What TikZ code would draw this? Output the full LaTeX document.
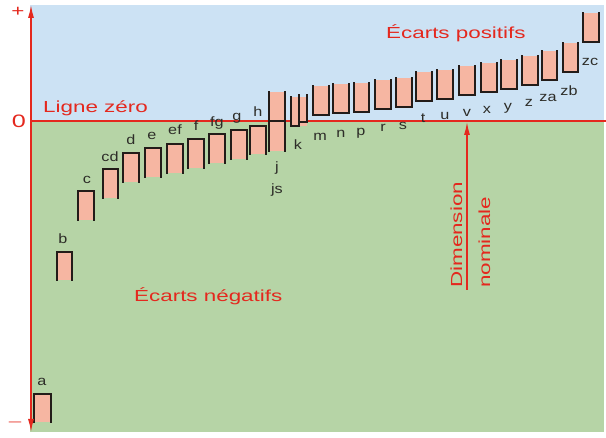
\documentclass[tikz,border=0pt]{standalone}
\usepackage{fontspec}
\setmainfont{Liberation Sans}
\newfontfamily\bigf[FakeStretch=1.4]{Liberation Sans}
\newfontfamily\smf[FakeStretch=1.2]{Liberation Sans}
\usetikzlibrary{arrows.meta}
\definecolor{bgblue}{RGB}{204,226,244}
\definecolor{bggreen}{RGB}{182,212,166}
\definecolor{myred}{RGB}{228,40,30}
\definecolor{boxpink}{RGB}{246,182,162}
\definecolor{boxline}{RGB}{35,28,25}
\definecolor{labgray}{RGB}{45,45,40}
\tikzset{
  redline/.style={draw=myred,line width=1.6pt},
  biglab/.style={font=\bigf\fontsize{16}{19}\selectfont,text=myred,inner sep=0pt},
  smlab/.style={font=\smf\fontsize{13.5}{15}\selectfont,text=labgray,inner sep=0pt},
  boxedge/.style={draw=boxline,line width=2.6pt,line cap=rect},
  boxfill/.style={fill=boxpink},
}
\newcommand{\negbx}[4]{%
  \fill[boxfill] (#1,#3) rectangle (#2,#4);
  \draw[boxedge] (#1,#4) -- (#1,#3) -- (#2,#3) -- (#2,#4);}
\newcommand{\posbx}[4]{%
  \fill[boxfill] (#1,#3) rectangle (#2,#4);
  \draw[boxedge] (#1,#3) -- (#1,#4) -- (#2,#4) -- (#2,#3);}
\begin{document}
\begin{tikzpicture}[x=1pt,y=-1pt]
\useasboundingbox (0,0) rectangle (606,438);
% backgrounds
\fill[bgblue] (30,5) rectangle (604,121);
\fill[bggreen] (30,121) rectangle (604,432);
% boxes below zero
\negbx{34}{51}{394}{422}
\negbx{57}{72}{252}{280}
\negbx{78}{94}{191}{220}
\negbx{103}{118}{169}{198}
\negbx{123}{139}{153}{182}
\negbx{145}{161}{148}{177}
\negbx{167}{183}{144}{173}
\negbx{188}{204}{139}{168}
\negbx{209}{225}{134}{163}
\negbx{231}{247}{130}{159}
\negbx{250}{266}{126}{154}
% zero line
\coordinate (z0) at (30,121);
\coordinate (z1) at (606,121);
\draw[redline] (z0) -- (z1);
% js box (straddling)
\fill[boxfill] (269,92) rectangle (285,151);
\draw[boxedge] (269,92) -- (269,151);
\draw[boxedge] (285,92) -- (285,151);
\draw[boxedge] (269,121) -- (285,121);
% k boxes
\fill[boxfill] (291,97) rectangle (307,126);
\draw[boxedge] (291,97) -- (291,126) -- (299,126) -- (299,95);
\draw[boxedge] (299,122) -- (307,122) -- (307,95);
% boxes above zero
\posbx{313}{329}{86}{115}
\posbx{333}{349}{84}{113}
\posbx{354}{369}{83}{112}
\posbx{375}{391}{80}{109}
\posbx{396}{412}{78}{107}
\posbx{416}{432}{72}{101}
\posbx{437}{453}{70}{99}
\posbx{459}{475}{66}{95}
\posbx{481}{497}{63}{92}
\posbx{501}{517}{60}{89}
\posbx{522}{538}{56}{85}
\posbx{542}{557}{51}{80}
\posbx{563}{578}{43}{72}
\posbx{583}{599}{13}{42}
% axis
\coordinate (axtop) at (31,5);
\coordinate (axbot) at (31,432);
\draw[redline,line width=1.3pt,{Latex[length=13pt,width=6pt]}-{Latex[length=13pt,width=6pt]}] (axbot) -- (axtop);
% axis marks
\node[biglab,anchor=center] (plus) at (18,12) {+};
\node[biglab,anchor=center,font=\bigf\fontsize{18}{20}\selectfont] (zero) at (19,121) {0};
\node[biglab,anchor=center,text=myred!75] (minus) at (15,424) {–};
% big labels
\node[biglab,anchor=base west] (lz) at (43,113) {Ligne zéro};
\node[biglab,anchor=base west] (ep) at (386,39) {Écarts positifs};
\node[biglab,anchor=base west] (en) at (134,302) {Écarts négatifs};
% nominal dimension
\coordinate (dn1) at (467,290);
\coordinate (dn0) at (467,122);
\draw[redline,line width=1.3pt,-{Latex[length=13pt,width=6pt]}] (dn1) -- (dn0);
\node[biglab,anchor=base west,rotate=90] (dim) at (462,288) {Dimension};
\node[biglab,anchor=base west,rotate=90] (nom) at (490,288) {nominale};
% small labels
\node[smlab] (la) at (42,382) {a};
\node[smlab] (lb) at (63,239) {b};
\node[smlab] (lc) at (87,180) {c};
\node[smlab] (lcd) at (110,157) {cd};
\node[smlab] (ld) at (131,140) {d};
\node[smlab] (le) at (152,136) {e};
\node[smlab] (lef) at (175,130) {ef};
\node[smlab] (lf) at (196,126) {f};
\node[smlab] (lfg) at (217,123) {fg};
\node[smlab] (lg) at (237,118) {g};
\node[smlab] (lh) at (258,112) {h};
\node[smlab] (lj) at (277,168) {j};
\node[smlab] (ljs) at (277,190) {js};
\node[smlab] (lk) at (298,145) {k};
\node[smlab] (lm) at (320,137) {m};
\node[smlab] (ln) at (341,134) {n};
\node[smlab] (lp) at (361,133) {p};
\node[smlab] (lr) at (383,128) {r};
\node[smlab] (ls) at (403,126) {s};
\node[smlab] (lt) at (423,118) {t};
\node[smlab] (lu) at (445,116) {u};
\node[smlab] (lv) at (467,113) {v};
\node[smlab] (lx) at (487,110) {x};
\node[smlab] (ly) at (508,108) {y};
\node[smlab] (lz2) at (529,103) {z};
\node[smlab] (lza) at (548,98) {za};
\node[smlab] (lzb) at (569,91) {zb};
\node[smlab] (lzc) at (590,62) {zc};
\end{tikzpicture}
\end{document}
